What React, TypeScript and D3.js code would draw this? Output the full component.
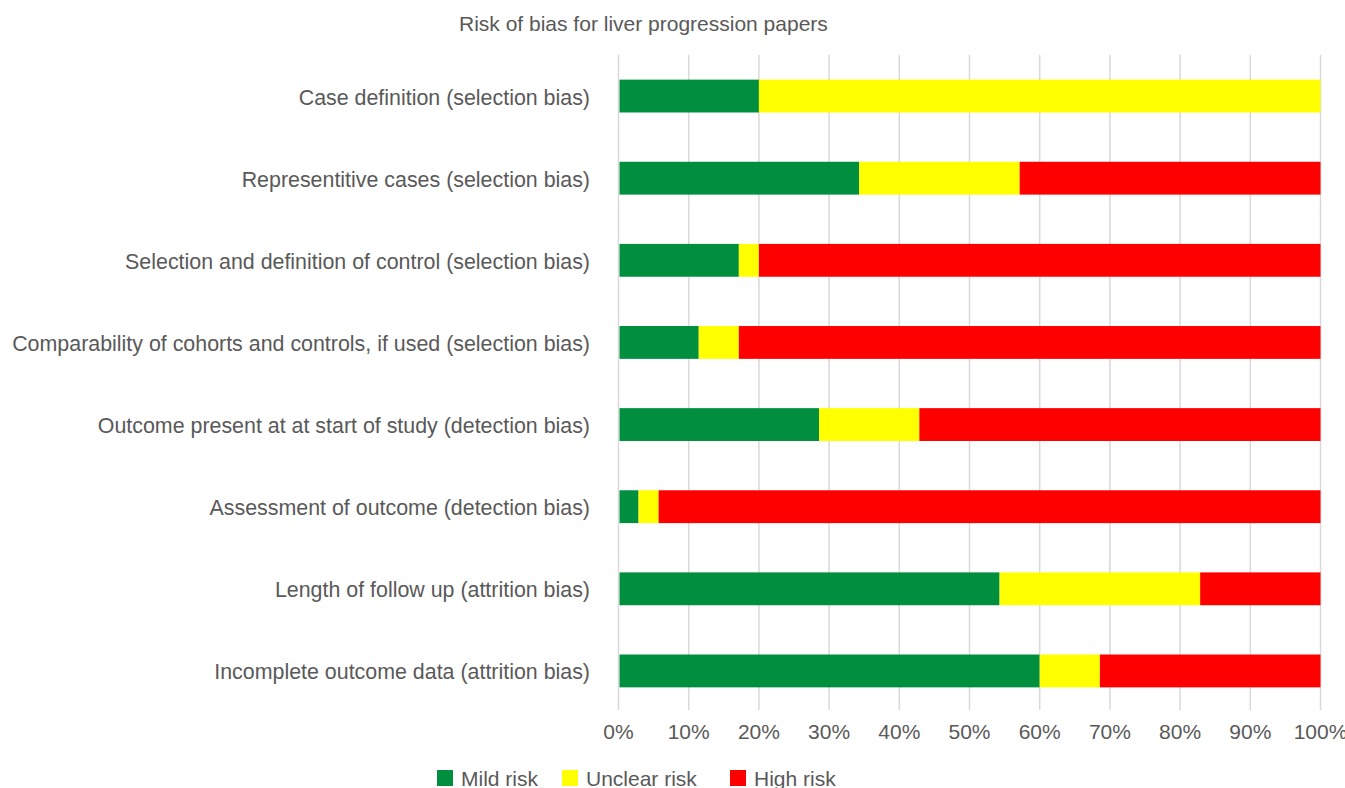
import React from "react";
import * as d3 from "d3";

const title = "Risk of bias for liver progression papers";
const categories = [
  "Case definition (selection bias)",
  "Representitive cases (selection bias)",
  "Selection and definition of control (selection bias)",
  "Comparability of cohorts and controls, if used (selection bias)",
  "Outcome present at at start of study (detection bias)",
  "Assessment of outcome (detection bias)",
  "Length of follow up (attrition bias)",
  "Incomplete outcome data (attrition bias)",
];
// counts of papers (out of 35)
const mild = [7, 12, 6, 4, 10, 1, 19, 21];
const unclear = [28, 8, 1, 2, 5, 1, 10, 3];
const high = [0, 15, 28, 29, 20, 33, 6, 11];
const seriesNames = ["Mild risk", "Unclear risk", "High risk"];
const seriesColors = ["#008f3f", "#ffff00", "#ff0000"];
const tickValues = [0, 0.1, 0.2, 0.3, 0.4, 0.5, 0.6, 0.7, 0.8, 0.9, 1];

const W = 1345;
const H = 788;
const left = 618.5;
const right = 1320.5;
const top = 55;
const bottom = 712;
const font = "'Liberation Sans', Arial, Helvetica, sans-serif";

export default function App() {
  const rows = categories.map((c, i) => ({
    cat: c,
    m: mild[i],
    u: unclear[i],
    h: high[i],
  }));
  const stack = d3
    .stack<any>()
    .keys(["m", "u", "h"])
    .offset(d3.stackOffsetExpand);
  const layers = stack(rows);
  const x = d3.scaleLinear().domain([0, 1]).range([left, right]);
  const y = d3
    .scaleBand()
    .domain(categories)
    .range([top, bottom])
    .paddingInner(0.6)
    .paddingOuter(0.3);
  const fmt = d3.format(".0%");
  const legendX = [437, 562, 730];

  return (
    <svg
      width={W}
      height={H}
      style={{ position: "absolute", left: 0, top: 0, background: "#fff" }}
      fontFamily={font}
    >
      <text x={459} y={31} fontSize={21} fill="#595959">
        {title}
      </text>
      {tickValues.map((t) => (
        <g key={t}>
          <line
            x1={x(t)}
            x2={x(t)}
            y1={top}
            y2={710}
            stroke="#d9d9d9"
            strokeWidth={1.5}
          />
          <text
            x={x(t)}
            y={739}
            fontSize={21}
            fill="#595959"
            textAnchor="middle"
          >
            {fmt(t)}
          </text>
        </g>
      ))}
      {layers.map((layer, li) => (
        <g key={li} fill={seriesColors[li]}>
          {layer.map((d, i) => {
            const x0 = x(d[0]);
            const x1 = x(d[1]);
            if (x1 - x0 <= 0) return null;
            return (
              <rect
                key={i}
                x={x0 + (li === 0 ? 1 : 0)}
                y={y(categories[i])}
                width={x1 - x0 - (li === 0 ? 1 : 0)}
                height={y.bandwidth()}
              />
            );
          })}
        </g>
      ))}
      {categories.map((c) => (
        <text
          key={c}
          x={590}
          y={(y(c) as number) + y.bandwidth() / 2 + 8.5}
          fontSize={21.4}
          fill="#595959"
          textAnchor="end"
        >
          {c}
        </text>
      ))}
      {seriesNames.map((s, i) => (
        <g key={s}>
          <rect x={legendX[i]} y={770} width={16} height={16} fill={seriesColors[i]} />
          <text x={legendX[i] + 24} y={786} fontSize={21} fill="#595959">
            {s}
          </text>
        </g>
      ))}
    </svg>
  );
}
